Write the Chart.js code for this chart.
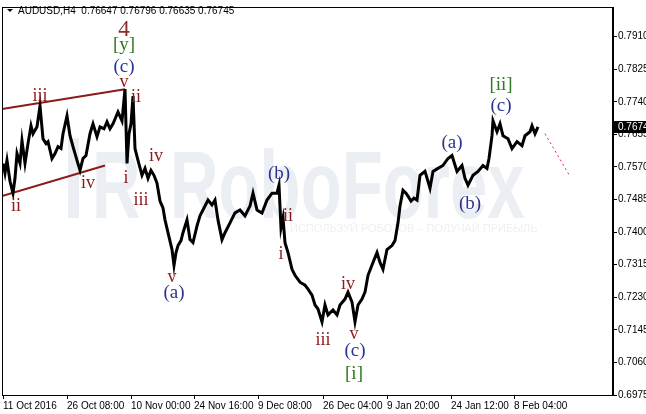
<!DOCTYPE html>
<html>
<head>
<meta charset="utf-8">
<script src="https://cdn.jsdelivr.net/npm/chart.js@4.4.1/dist/chart.umd.min.js"></script>
<style>
  html, body { margin: 0; padding: 0; background: #fff; }
  #wrap { width: 646px; height: 414px; }
</style>
</head>
<body>
<div id="wrap"><canvas id="chart" width="646" height="414"></canvas></div>
<script>
// --- data ---
const symbol = "AUDUSD,H4";
const quote = [0.76647, 0.76796, 0.76635, 0.76745]; // open high low close

// bar index (one H4 bar ~ one pixel)
const bars = [1, 3, 5, 8, 11, 13, 15, 18, 20, 23, 26, 29, 31, 35, 38, 41, 44, 46, 50, 53,
  56, 59, 61, 65, 68, 71, 75, 78, 81, 84, 88, 91, 95, 98, 102, 105, 108, 111, 116, 120,
  123, 125, 127, 129, 131, 133, 136, 140, 143, 146, 149, 152, 155, 158, 161, 163, 166, 170, 172, 174,
  176, 179, 181, 185, 188, 191, 195, 198, 203, 206, 210, 213, 216, 220, 223, 228, 233, 238, 243, 248,
  251, 255, 260, 265, 270, 275, 277, 279, 281, 283, 286, 290, 293, 298, 303, 306, 310, 313, 316, 320,
  323, 326, 331, 335, 338, 343, 346, 350, 353, 356, 360, 363, 366, 371, 375, 378, 381, 385, 390, 393,
  396, 398, 401, 404, 406, 409, 412, 415, 418, 423, 428, 431, 436, 441, 446, 450, 455, 460, 463, 466,
  471, 476, 481, 485, 487, 490, 491, 495, 498, 501, 506, 510, 515, 520, 523, 528, 530, 533, 536];

const closes = [0.75793, 0.75535, 0.75871, 0.75328, 0.75018, 0.75405, 0.76051, 0.75793, 0.76387, 0.75793,
  0.76310, 0.76775, 0.76568, 0.76749, 0.77291, 0.76439, 0.76310, 0.76361, 0.75922, 0.76051,
  0.76232, 0.76181, 0.76568, 0.77033, 0.76516, 0.76232, 0.75871, 0.75612, 0.75922, 0.76000,
  0.76568, 0.76826, 0.76491, 0.76749, 0.76697, 0.76878, 0.76697, 0.76826, 0.77136, 0.76904,
  0.77731, 0.75793, 0.76568, 0.76826, 0.77550, 0.76181, 0.75871, 0.75483, 0.75664, 0.75405,
  0.75612, 0.75483, 0.75276, 0.74811, 0.74630, 0.74320, 0.73985, 0.73545, 0.73132, 0.73468,
  0.73649, 0.73778, 0.73985, 0.74320, 0.73804, 0.73726, 0.74165, 0.74424, 0.74682, 0.74837,
  0.74708, 0.74837, 0.74320, 0.73804, 0.73985, 0.74243, 0.74501, 0.74579, 0.74424, 0.74682,
  0.75018, 0.74579, 0.74501, 0.74837, 0.75018, 0.75018, 0.75225, 0.74114, 0.74372, 0.73726,
  0.73468, 0.73029, 0.72874, 0.72693, 0.72615, 0.72512, 0.72357, 0.72098, 0.71995, 0.71659,
  0.72098, 0.71840, 0.71969, 0.71840, 0.72098, 0.72253, 0.72434, 0.72176, 0.71659, 0.72098,
  0.72253, 0.72434, 0.72874, 0.73209, 0.73468, 0.73209, 0.73029, 0.73545, 0.73649, 0.73778,
  0.74243, 0.74682, 0.75095, 0.75018, 0.74940, 0.74811, 0.74889, 0.74837, 0.75483, 0.75586,
  0.75147, 0.75586, 0.75664, 0.75741, 0.75922, 0.76000, 0.75586, 0.75741, 0.75405, 0.75225,
  0.75483, 0.75586, 0.75741, 0.75664, 0.75922, 0.76516, 0.76904, 0.76620, 0.76826, 0.76516,
  0.76439, 0.76181, 0.76361, 0.76258, 0.76516, 0.76620, 0.76775, 0.76568, 0.76745];

// channel lines and forecast
const upperChannel = [[0, 0.77214], [123, 0.77731]];
const lowerChannel = [[0, 0.74940], [103, 0.75741]];
const forecast = [[543, 0.76568], [568, 0.75457]];

// axes
const yTicks = [0.6975, 0.7060, 0.7145, 0.7230, 0.7315, 0.7400, 0.7485, 0.7570, 0.7655, 0.7740, 0.7825, 0.7910];
const xTickBars = [1, 65, 129, 192, 256, 321, 385, 449, 512];
const xTickLabels = ["11 Oct 2016", "26 Oct 08:00", "10 Nov 00:00", "24 Nov 16:00", "9 Dec 08:00",
  "26 Dec 04:00", "9 Jan 20:00", "24 Jan 12:00", "8 Feb 04:00"];

// wave marks: text, bar, price (baseline), kind
const waveText  = ["4", "[y]", "(c)", "v", "ii", "iii", "ii", "iv", "i", "iii", "iv", "v", "(a)", "(b)", "ii", "i",
  "iii", "iv", "v", "(c)", "[i]", "[ii]", "(c)", "(a)", "(b)"];
const waveBar   = [122, 122, 122, 122, 134, 38, 14, 86, 124, 139, 154, 170, 172, 277, 286, 279,
  321, 346, 352, 353, 352, 499, 499, 450, 468];
const wavePrice = [0.79126, 0.78764, 0.78170, 0.77782, 0.77395, 0.77421, 0.74553, 0.75147, 0.75276, 0.74708, 0.75845,
  0.72693, 0.72279, 0.75380, 0.74295, 0.73287, 0.71065, 0.72512, 0.71220, 0.70755, 0.70161, 0.77705, 0.77162,
  0.76206, 0.74605];
const waveKind  = ["big", "green", "blue", "red", "red", "red", "red", "red", "red", "red", "red", "red", "blue", "blue",
  "red", "red", "red", "red", "red", "blue", "green", "green", "blue", "blue", "blue"];

const WAVE_STYLE = {
  big:   { color: "#8e2b2b", font: "23px 'Liberation Serif'" },
  green: { color: "#2f7a1c", font: "19px 'Liberation Serif'" },
  blue:  { color: "#2a3590", font: "19px 'Liberation Serif'" },
  red:   { color: "#8b1c1c", font: "18px 'Liberation Serif'" }
};

const pts = arr => arr.map(p => ({ x: p[0], y: p[1] }));

// watermark behind everything
const watermark = {
  id: "watermark",
  beforeDatasetsDraw(chart) {
    const g = chart.ctx;
    g.save();
    g.fillStyle = "#ebeef3";
    g.fillRect(68, 138, 11, 80);
    g.font = "bold 96px 'Liberation Sans'";
    g.textBaseline = "alphabetic";
    g.save();
    g.translate(92, 218);
    g.scale(0.7, 1);
    g.fillText("R", 0, 0);
    g.restore();
    g.save();
    g.translate(170, 218);
    g.scale(0.7, 1);
    g.fillText("RoboForex", 0, 0);
    g.restore();
    g.fillStyle = "#eef0f4";
    g.font = "11px 'Liberation Sans'";
    g.textBaseline = "middle";
    g.fillText("ИСПОЛЬЗУЙ РОБОТОВ – ПОЛУЧАЙ ПРИБЫЛЬ", 290, 229, 253);
    g.restore();
  }
};

// frame, title, wave labels, price box
const decor = {
  id: "decor",
  afterDraw(chart) {
    const g = chart.ctx;
    const a = chart.chartArea;
    const xs = chart.scales.x, ys = chart.scales.y;
    g.save();

    g.strokeStyle = "#000";
    g.lineWidth = 1;
    g.strokeRect(a.left + 0.5, a.top + 0.5, a.right - a.left - 1, a.bottom - a.top);

    // title
    g.fillStyle = "#000";
    g.beginPath();
    g.moveTo(7, 9); g.lineTo(13, 9); g.lineTo(10, 12); g.closePath();
    g.fill();
    g.font = "10px 'Liberation Sans'";
    g.textBaseline = "middle";
    g.textAlign = "left";
    g.fillText(symbol + "  " + quote.map(v => v.toFixed(5)).join(" "), 18, 11);

    // wave labels
    g.textAlign = "center";
    g.textBaseline = "alphabetic";
    waveText.forEach((t, i) => {
      const st = WAVE_STYLE[waveKind[i]];
      g.font = st.font;
      g.fillStyle = st.color;
      g.fillText(t, xs.getPixelForValue(waveBar[i]), ys.getPixelForValue(wavePrice[i]));
    });

    // last price box
    const last = quote[3];
    const py = Math.round(ys.getPixelForValue(last));
    g.fillStyle = "#000";
    g.fillRect(a.right + 1, py - 6, 646 - a.right - 1, 12);
    g.fillStyle = "#fff";
    g.font = "10px 'Liberation Sans'";
    g.textAlign = "left";
    g.textBaseline = "middle";
    g.fillText(last.toFixed(4), a.right + 5, py);

    g.restore();
  }
};

Chart.defaults.font.family = "'Liberation Sans', sans-serif";
Chart.defaults.font.size = 10;
Chart.defaults.color = "#000";

new Chart(document.getElementById("chart"), {
  type: "line",
  data: {
    datasets: [
      {
        data: bars.map((b, i) => ({ x: b, y: closes[i] })),
        borderColor: "#000",
        borderWidth: 3,
        borderJoinStyle: "miter",
        pointRadius: 0,
        tension: 0
      },
      { data: pts(upperChannel), borderColor: "#8b1a1a", borderWidth: 2, pointRadius: 0 },
      { data: pts(lowerChannel), borderColor: "#8b1a1a", borderWidth: 2, pointRadius: 0 },
      { data: pts(forecast), borderColor: "#e8204a", borderWidth: 1, borderDash: [2, 3], pointRadius: 0 }
    ]
  },
  options: {
    responsive: false,
    animation: false,
    layout: { padding: { left: 2, top: 2, right: 0, bottom: 0 } },
    plugins: { legend: { display: false }, tooltip: { enabled: false } },
    scales: {
      x: {
        type: "linear",
        min: 0,
        max: 611,
        afterBuildTicks: s => { s.ticks = xTickBars.map(v => ({ value: v })); },
        afterFit: s => { s.height = 19; },
        ticks: {
          autoSkip: false,
          maxRotation: 0,
          align: "start",
          padding: 1,
          callback: (v, i) => xTickLabels[i]
        },
        grid: { drawOnChartArea: false, drawTicks: true, tickLength: 4, color: "#000" },
        border: { display: true, color: "#000" }
      },
      y: {
        position: "right",
        min: 0.6975,
        max: 0.79875,
        afterBuildTicks: s => { s.ticks = yTicks.map(v => ({ value: v })); },
        afterFit: s => { s.width = 33; },
        ticks: {
          padding: 1,
          callback: v => v.toFixed(4)
        },
        grid: { drawOnChartArea: false, drawTicks: true, tickLength: 4, color: "#000" },
        border: { display: true, color: "#000" }
      }
    }
  },
  plugins: [watermark, decor]
});
</script>
</body>
</html>
